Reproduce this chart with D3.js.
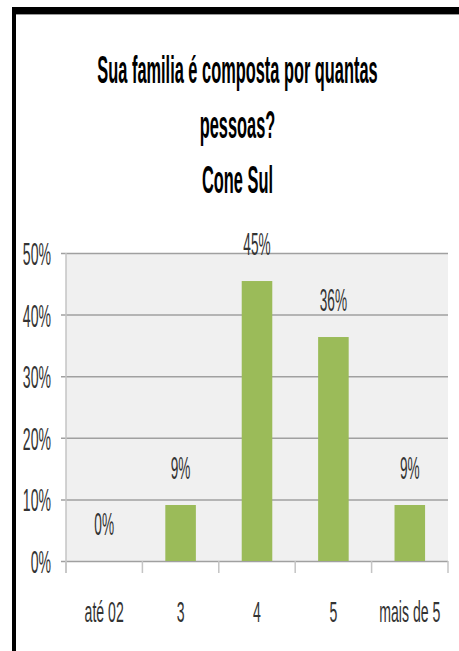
<!DOCTYPE html>
<html>
<head>
<meta charset="utf-8">
<script src="https://cdn.jsdelivr.net/npm/d3@7"></script>
<style>
  html, body { margin: 0; padding: 0; background: #ffffff; }
  svg { display: block; }
</style>
</head>
<body>
<svg id="chart" width="459" height="651"></svg>
<script>
// ---- data ----
const titleLines = ["Sua familia é composta por quantas", "pessoas?", "Cone Sul"];
const categories = ["até 02", "3", "4", "5", "mais de 5"];
const values = [0, 0.0909, 0.4545, 0.3636, 0.0909];
const valueLabels = ["0%", "9%", "45%", "36%", "9%"];
const yTicks = [0, 0.1, 0.2, 0.3, 0.4, 0.5];

// ---- layout ----
const W = 459, H = 651;
const plot = { left: 66, right: 448, top: 253, bottom: 561 };
const svg = d3.select("#chart");
const FONT = "'Liberation Sans', Arial, sans-serif";

// frame (top + left thick black border)
svg.append("rect").attr("x", 12).attr("y", 7).attr("width", W - 12).attr("height", 7).attr("fill", "#000");
svg.append("line").attr("x1", 16).attr("x2", W).attr("y1", 14.5).attr("y2", 14.5).attr("stroke", "#9a9a9a").attr("stroke-width", 1);
svg.append("rect").attr("x", 12).attr("y", 7).attr("width", 4).attr("height", H - 7).attr("fill", "#000");

const x = d3.scaleBand().domain(categories).range([plot.left, plot.right]).padding(0);
const y = d3.scaleLinear().domain([0, 0.5]).range([plot.bottom, plot.top]);

function squeezeText(sel, sx) {
  sel.each(function () {
    const t = d3.select(this);
    const tx = +t.attr("data-x"), ty = +t.attr("data-y");
    t.attr("x", 0).attr("y", 0).attr("transform", `translate(${tx},${ty}) scale(${sx},1)`);
  });
}

// title
svg.append("g").selectAll("text").data(titleLines).join("text")
  .attr("data-x", 237.5)
  .attr("data-y", (d, i) => 83 + i * 55)
  .attr("text-anchor", "middle")
  .attr("font-family", FONT)
  .attr("font-weight", "bold")
  .attr("font-size", 39)
  .attr("fill", "#000")
  .text(d => d)
  .call(squeezeText, 0.42);

// plot background
svg.append("rect")
  .attr("x", plot.left).attr("y", plot.top)
  .attr("width", plot.right - plot.left).attr("height", plot.bottom - plot.top)
  .attr("fill", "#f0f0f0");

// gridlines (with left tick stubs)
const yAxis = d3.axisLeft(y).tickValues(yTicks).tickSize(-(plot.right - plot.left)).tickFormat("");
const gy = svg.append("g").attr("transform", `translate(${plot.left},0)`).call(yAxis);
gy.select(".domain").remove();
gy.selectAll(".tick line").attr("stroke", "#a0a0a0").attr("stroke-width", 1.5).attr("x1", -5);

// vertical axis line
svg.append("line")
  .attr("x1", plot.left).attr("x2", plot.left)
  .attr("y1", plot.top).attr("y2", plot.bottom + 12)
  .attr("stroke", "#c4c4c4").attr("stroke-width", 1.5);

// y labels
svg.append("g").selectAll("text").data(yTicks).join("text")
  .attr("data-x", 51)
  .attr("data-y", d => y(d) + 12)
  .attr("text-anchor", "end")
  .attr("font-family", FONT)
  .attr("font-size", 32)
  .attr("fill", "#333")
  .text(d => d3.format(".0%")(d))
  .call(squeezeText, 0.44);

// x axis ticks at category boundaries
const boundaries = categories.map(c => x(c)).concat([x(categories[categories.length - 1]) + x.bandwidth()]);
svg.append("g").selectAll("line").data(boundaries).join("line")
  .attr("x1", d => d).attr("x2", d => d)
  .attr("y1", plot.bottom).attr("y2", plot.bottom + 12)
  .attr("stroke", "#c4c4c4").attr("stroke-width", 1.5);

// x labels
svg.append("g").selectAll("text").data(categories).join("text")
  .attr("data-x", d => x(d) + x.bandwidth() / 2)
  .attr("data-y", 622)
  .attr("text-anchor", "middle")
  .attr("font-family", FONT)
  .attr("font-size", 30)
  .attr("fill", "#333")
  .text(d => d)
  .call(squeezeText, 0.47);

// bars
const barW = x.bandwidth() * 0.4;
svg.append("g").selectAll("rect").data(categories).join("rect")
  .attr("x", d => x(d) + (x.bandwidth() - barW) / 2)
  .attr("y", (d, i) => y(values[i]))
  .attr("width", barW)
  .attr("height", (d, i) => y(0) - y(values[i]))
  .attr("fill", "#9bbb59");

// data labels
svg.append("g").selectAll("text").data(categories).join("text")
  .attr("data-x", d => x(d) + x.bandwidth() / 2)
  .attr("data-y", (d, i) => y(values[i]) - 26)
  .attr("text-anchor", "middle")
  .attr("font-family", FONT)
  .attr("font-size", 31)
  .attr("fill", "#333")
  .text((d, i) => valueLabels[i])
  .call(squeezeText, 0.44);
</script>
</body>
</html>
